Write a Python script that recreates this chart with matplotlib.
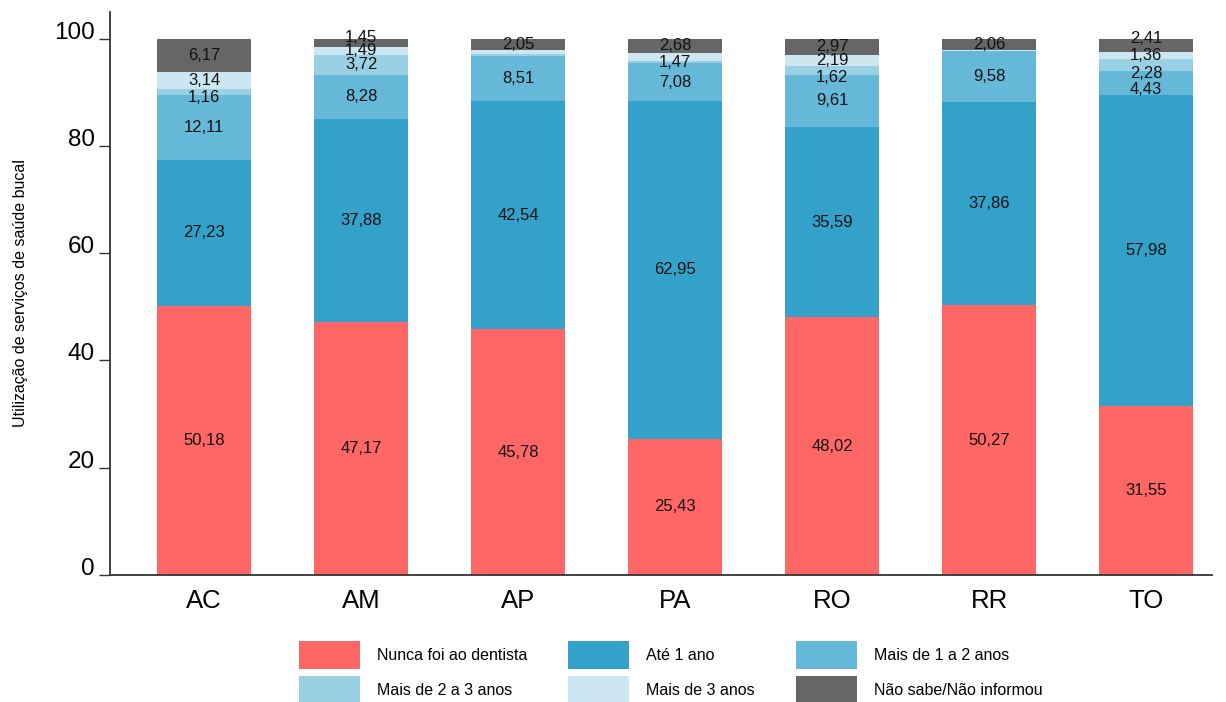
import matplotlib
import matplotlib.pyplot as plt
import numpy as np

matplotlib.use("Agg")
plt.rcParams["font.family"] = ["Liberation Sans", "DejaVu Sans"]

# ---- dados ----
estados = ["AC", "AM", "AP", "PA", "RO", "RR", "TO"]
categorias = [
    "Nunca foi ao dentista",
    "Até 1 ano",
    "Mais de 1 a 2 anos",
    "Mais de 2 a 3 anos",
    "Mais de 3 anos",
    "Não sabe/Não informou",
]
nunca = [50.18, 47.17, 45.78, 25.43, 48.02, 50.27, 31.55]
ate_1 = [27.23, 37.88, 42.54, 62.95, 35.59, 37.86, 57.98]
de_1_a_2 = [12.11, 8.28, 8.51, 7.08, 9.61, 9.58, 4.43]
de_2_a_3 = [1.16, 3.72, 0.40, 0.39, 1.62, 0.0, 2.28]
mais_3 = [3.14, 1.49, 0.72, 1.47, 2.19, 0.23, 1.36]
nao_sabe = [6.17, 1.45, 2.05, 2.68, 2.97, 2.06, 2.41]
# segmentos sem rótulo no original (valores estimados)
sem_rotulo = {("AP", 3), ("AP", 4), ("PA", 3), ("RR", 3), ("RR", 4)}

cores = ["#FF6666", "#33A1C9", "#66B8D8", "#99D0E3", "#CCE7F2", "#666666"]
series = [nunca, ate_1, de_1_a_2, de_2_a_3, mais_3, nao_sabe]

# deslocamento vertical (pontos) dos rótulos apertados
ajuste = {
    ("AC", 3): -4, ("AM", 5): 4, ("PA", 4): -4, ("RO", 3): -5,
    ("TO", 5): 5, ("TO", 3): -6, ("TO", 2): -5,
}

fig = plt.figure(figsize=(12.26, 7.02), dpi=100)
ax = fig.add_axes([0.0897, 0.181, 0.8989, 0.802])

x = np.arange(len(estados))
base = np.zeros(len(estados))
for vals, cor, nome in zip(series, cores, categorias):
    v = np.array(vals)
    ax.bar(x, v, 0.6, bottom=base, color=cor, label=nome, edgecolor="none")
    base += v

# rótulos
for i, est in enumerate(estados):
    acc = 0.0
    for k, vals in enumerate(series):
        v = vals[i]
        if (est, k) not in sem_rotulo and v > 0:
            ax.annotate(f"{v:.2f}".replace(".", ","), (x[i], acc + v / 2),
                        xytext=(0, ajuste.get((est, k), 0)),
                        textcoords="offset points",
                        ha="center", va="center", fontsize=12, color="#111111")
        acc += v

ax.set_xlim(-0.6, 6.42)
ax.set_ylim(0, 105)
ax.set_yticks([0, 20, 40, 60, 80, 100])
ax.set_xticks(x)
ax.set_xticklabels(estados, fontsize=18.5)
ax.tick_params(axis="x", length=0, pad=10)
ax.tick_params(axis="y", labelsize=17.5, length=8, width=1, color="#333333", pad=3)
for lab in ax.get_yticklabels():
    lab.set_verticalalignment("baseline")
for s in ("top", "right"):
    ax.spines[s].set_visible(False)
for s in ("left", "bottom"):
    ax.spines[s].set_color("#333333")
    ax.spines[s].set_linewidth(1.3)
ax.set_ylabel("Utilização de serviços de saúde bucal", fontsize=11.5, labelpad=19)

handles, labels = ax.get_legend_handles_labels()
ordem = [0, 3, 1, 4, 2, 5]  # preenchimento por linha
fig.legend([handles[j] for j in ordem], [labels[j] for j in ordem], ncol=3,
           loc="upper center", bbox_to_anchor=(0.547, 1 - 633 / 702),
           frameon=False, fontsize=11.5,
           handlelength=3.8, handleheight=2.3, handletextpad=1.05,
           columnspacing=2.6, labelspacing=0.45, borderpad=0)

fig.savefig("out.png", dpi=100)
